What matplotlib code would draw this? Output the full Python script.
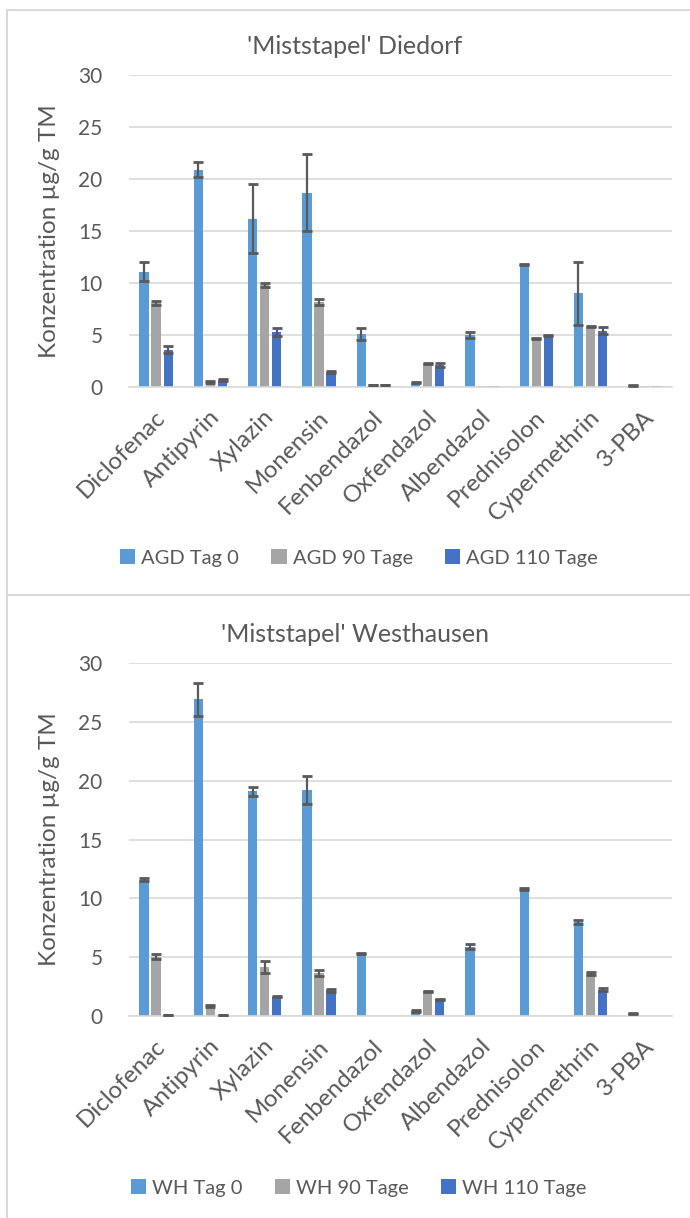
import numpy as np
import matplotlib
matplotlib.use('Agg')
import matplotlib.pyplot as plt
from matplotlib.lines import Line2D
from matplotlib.patches import Patch

plt.rcParams['font.family'] = ['Lato', 'DejaVu Sans']

categories = ['Diclofenac', 'Antipyrin', 'Xylazin', 'Monensin', 'Fenbendazol',
              'Oxfendazol', 'Albendazol', 'Prednisolon', 'Cypermethrin', '3-PBA']
y_ticks = [0, 5, 10, 15, 20, 25, 30]

# Diedorf (AGD)
agd_tag0 = [11.1, 20.9, 16.2, 18.7, 5.1, 0.42, 5.0, 11.8, 9.0, 0.16]
agd_tag0_err = [0.9, 0.7, 3.35, 3.7, 0.6, 0.05, 0.3, 0.03, 3.0, 0.02]
agd_90 = [8.1, 0.48, 9.8, 8.2, 0.2, 2.25, 0.05, 4.65, 5.8, 0.05]
agd_90_err = [0.2, 0.05, 0.2, 0.3, 0.02, 0.05, 0, 0.05, 0.05, 0]
agd_110 = [3.6, 0.7, 5.3, 1.45, 0.2, 2.1, 0.05, 4.95, 5.4, 0.05]
agd_110_err = [0.3, 0.08, 0.35, 0.08, 0.02, 0.2, 0, 0.05, 0.35, 0]

# Westhausen (WH)
wh_tag0 = [11.6, 26.9, 19.1, 19.2, 5.3, 0.43, 5.9, 10.8, 8.0, 0.23]
wh_tag0_err = [0.15, 1.43, 0.37, 1.2, 0.05, 0.05, 0.2, 0.05, 0.2, 0.05]
wh_90 = [5.05, 0.85, 4.15, 3.65, 0.02, 2.1, 0.02, 0.02, 3.63, 0.02]
wh_90_err = [0.2, 0.05, 0.5, 0.28, 0, 0.05, 0, 0, 0.14, 0]
wh_110 = [0.1, 0.1, 1.65, 2.2, 0.02, 1.42, 0.02, 0.02, 2.25, 0.02]
wh_110_err = [0.02, 0.02, 0.05, 0.13, 0, 0.05, 0, 0, 0.1, 0]

colors = ['#5B9BD5', '#A5A5A5', '#4472C4']
text_col = '#595959'
grid_col = '#D9D9D9'

W, H = 690, 1218
fig = plt.figure(figsize=(W / 100, H / 100), dpi=100)


def draw_panel(rect, title, title_y, series, errs, labels, legend_y):
    ax = fig.add_axes(rect)
    x = np.arange(len(categories))
    width = 0.172
    step = 0.222
    for i, (vals, err) in enumerate(zip(series, errs)):
        pos = x + (i - 1) * step
        ax.bar(pos, vals, width, color=colors[i], zorder=2)
        err = np.array(err)
        keep = err > 0
        ax.errorbar(pos[keep], np.array(vals)[keep], yerr=err[keep], fmt='none',
                    ecolor='#595959', elinewidth=1.6, capsize=3.6, capthick=2.0, zorder=3)
    ax.set_ylim(0, 30)
    ax.set_xlim(-0.5, len(categories) - 0.5)
    ax.set_yticks(y_ticks)
    ax.yaxis.grid(True, color=grid_col, linewidth=1.2, zorder=0)
    ax.set_axisbelow(True)
    for s in ['top', 'right', 'left']:
        ax.spines[s].set_visible(False)
    ax.spines['bottom'].set_color(grid_col)
    ax.spines['bottom'].set_linewidth(1.2)
    ax.tick_params(axis='y', length=0, labelsize=15, colors=text_col, pad=19)
    ax.tick_params(axis='x', length=0, labelsize=17.5, colors=text_col, pad=14)
    ax.set_xticks(x - 0.03)
    ax.set_xticklabels(categories, rotation=45, ha='right', va='top',
                       rotation_mode='anchor')
    ax.set_ylabel('Konzentration µg/g TM', fontsize=17.5, color=text_col)
    ax.yaxis.set_label_coords(-69 / 543, 0.5)
    fig.text(355 / W, 1 - title_y / H, title, ha='center', va='center',
             fontsize=18, color=text_col)
    handles = [Patch(facecolor=c, edgecolor='none') for c in colors]
    fig.legend(handles, labels, loc='center', bbox_to_anchor=(359 / W, 1 - legend_y / H),
               ncol=3, frameon=False, fontsize=14.5, labelcolor=text_col,
               handlelength=0.75, handleheight=0.75, handletextpad=0.3,
               columnspacing=1.6)
    return ax


draw_panel([129 / W, 1 - 387 / H, 543 / W, 312 / H], "'Miststapel' Diedorf", 47,
           [agd_tag0, agd_90, agd_110], [agd_tag0_err, agd_90_err, agd_110_err],
           ['AGD Tag 0', 'AGD 90 Tage', 'AGD 110 Tage'], 558)
draw_panel([129 / W, 1 - 1016 / H, 543 / W, 353 / H], "'Miststapel' Westhausen", 634,
           [wh_tag0, wh_90, wh_110], [wh_tag0_err, wh_90_err, wh_110_err],
           ['WH Tag 0', 'WH 90 Tage', 'WH 110 Tage'], 1188)

# chart frames
frame = dict(color=grid_col, linewidth=1.5, transform=fig.transFigure)
fig.add_artist(Line2D([7 / W, 7 / W], [0, 1 - 10 / H], **frame))
fig.add_artist(Line2D([7 / W, 1], [1 - 10 / H, 1 - 10 / H], **frame))
fig.add_artist(Line2D([7 / W, 1], [1 - 595 / H, 1 - 595 / H], **frame))

fig.savefig('out.png', dpi=100)
